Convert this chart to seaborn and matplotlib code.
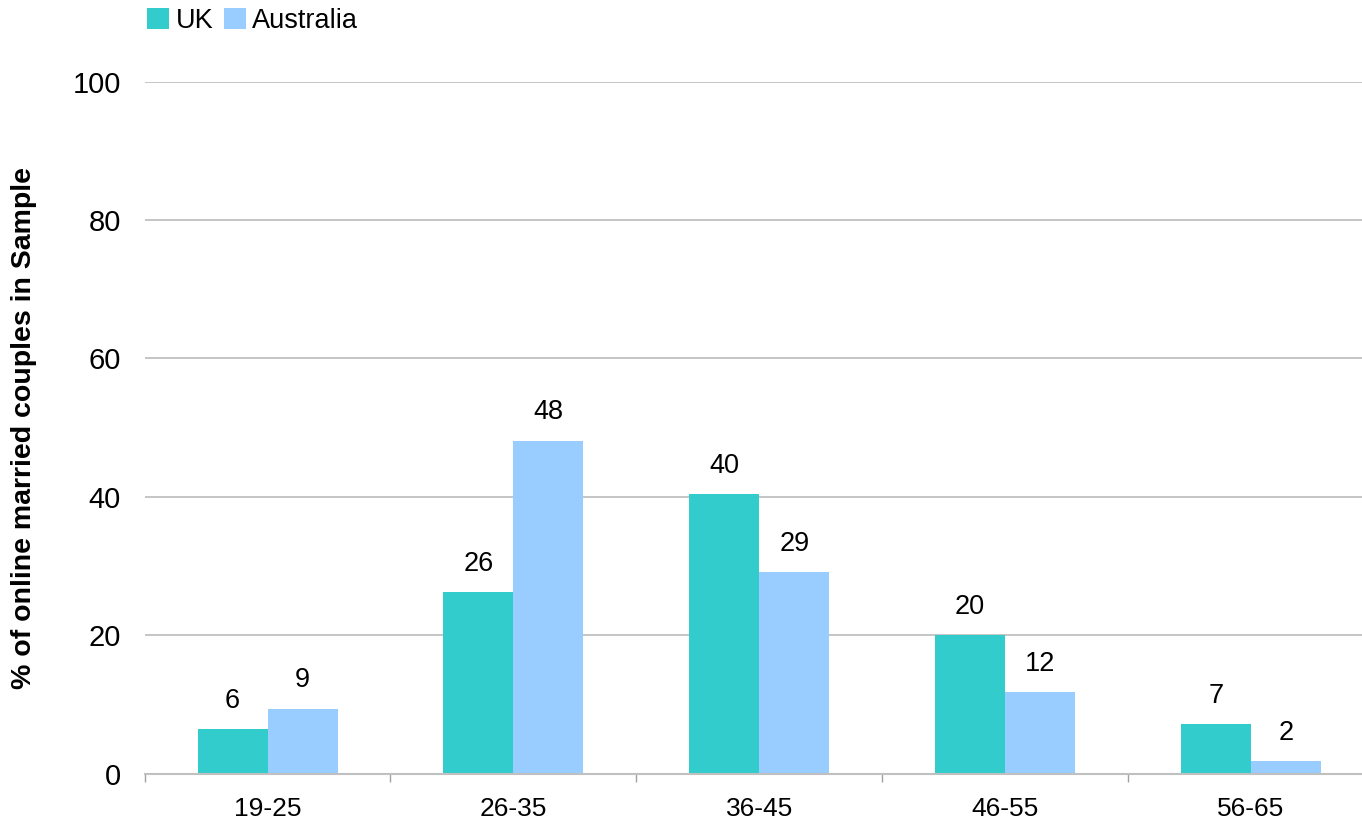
import pandas as pd
import seaborn as sns
from matplotlib import pyplot as plt
from matplotlib.ticker import FixedLocator

age_groups = ["19-25", "26-35", "36-45", "46-55", "56-65"]
uk = [6.4, 26.2, 40.4, 20.0, 7.1]
australia = [9.4, 48.1, 29.1, 11.8, 1.8]

df = pd.DataFrame({"Age": age_groups, "UK": uk, "Australia": australia})
df_long = df.melt(id_vars="Age", var_name="Country", value_name="Pct")

sns.set_style("white")
plt.rcParams["font.family"] = ["Liberation Sans", "DejaVu Sans"]
plt.rcParams["text.color"] = "black"
plt.rcParams["xtick.color"] = "black"
plt.rcParams["ytick.color"] = "black"
plt.rcParams["axes.labelcolor"] = "black"

fig = plt.figure(figsize=(13.62, 8.21), dpi=100)
ax = fig.add_axes([0.1062, 0.0578, 0.9025, 0.8427])

sns.barplot(data=df_long, x="Age", y="Pct", hue="Country",
            palette={"UK": "#33CCCC", "Australia": "#99CCFF"},
            width=0.57, saturation=1, linewidth=0, ax=ax)

for c in ax.containers:
    ax.bar_label(c, fmt="%.0f", padding=11, fontsize=19.5)

ax.set_ylim(0, 100)
ax.set_xlim(-0.5, len(age_groups) - 0.5)
ax.set_yticks([0, 20, 40, 60, 80, 100])
ax.yaxis.grid(True, color="#C0C0C0", linewidth=1.3)
ax.set_axisbelow(True)
for s in ["left", "right", "top"]:
    ax.spines[s].set_visible(False)
ax.spines["bottom"].set_color("#C0C0C0")
ax.spines["bottom"].set_linewidth(1.5)

ax.tick_params(axis="y", length=0, pad=17, labelsize=21, colors="black")
ax.tick_params(axis="x", which="major", length=0, pad=17, labelsize=19, colors="black")
ax.xaxis.set_minor_locator(FixedLocator([i - 0.5 for i in range(len(age_groups) + 1)]))
ax.tick_params(axis="x", which="minor", length=6, width=1, color="#A0A0A0", bottom=True)

ax.set_xlabel("")
ax.set_ylabel("% of online married couples in Sample", fontsize=20.5, fontweight="bold",
              labelpad=26, color="black")

handles, labels = ax.get_legend_handles_labels()
ax.get_legend().remove()
fig.legend(handles, labels, loc="upper left", bbox_to_anchor=(0.09, 1.02), ncol=2,
           frameon=False, fontsize=19.5, handlelength=0.8, handleheight=0.8,
           handletextpad=0.25, columnspacing=0.4)

plt.savefig("out.png", dpi=100)
